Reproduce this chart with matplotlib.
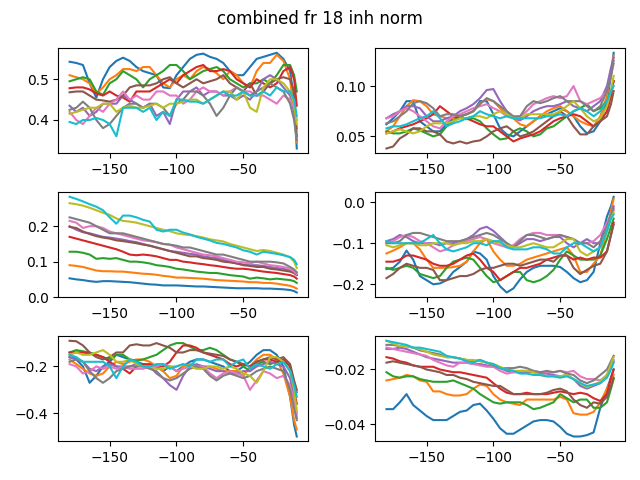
import matplotlib
matplotlib.use('Agg')
import matplotlib.pyplot as plt

t = [-180, -175, -170, -165, -160, -155, -150, -145, -140, -135, -130, -125,
     -120, -115, -110, -105, -100, -95, -90, -85, -80, -75, -70, -65,
     -60, -55, -50, -45, -40, -35, -30, -25, -20, -15, -12, -10]

# each panel: 10 traces, in default colour-cycle order (C0..C9)
p1 = [
    [.543,.54,.535,.49,.455,.5,.53,.545,.553,.545,.53,.52,.515,.51,.48,.478,.51,.53,.55,.56,.563,.555,.55,.54,.52,.51,.51,.53,.55,.555,.56,.565,.55,.52,.45,.33],
    [.51,.505,.5,.49,.465,.48,.5,.51,.525,.525,.52,.53,.53,.51,.49,.48,.5,.51,.5,.52,.53,.525,.515,.5,.52,.51,.49,.48,.52,.54,.54,.56,.545,.5,.42,.345],
    [.495,.5,.505,.5,.47,.462,.49,.5,.52,.51,.5,.48,.5,.51,.52,.535,.535,.52,.5,.51,.52,.525,.53,.52,.5,.49,.48,.49,.49,.5,.49,.51,.535,.535,.51,.47],
    [.478,.48,.48,.475,.465,.46,.47,.46,.455,.445,.47,.47,.47,.48,.49,.5,.49,.51,.52,.53,.535,.52,.52,.525,.52,.5,.49,.48,.5,.49,.48,.49,.52,.53,.5,.435],
    [.435,.42,.43,.41,.42,.44,.44,.44,.46,.45,.44,.43,.44,.41,.42,.39,.45,.47,.47,.48,.46,.47,.47,.46,.46,.45,.46,.45,.47,.5,.51,.5,.48,.46,.42,.38],
    [.468,.47,.47,.46,.45,.448,.445,.45,.46,.48,.485,.485,.485,.49,.5,.505,.49,.48,.49,.5,.49,.495,.5,.51,.49,.48,.47,.49,.46,.47,.49,.5,.505,.5,.47,.36],
    [.42,.4,.39,.41,.43,.42,.44,.45,.47,.45,.46,.45,.45,.47,.47,.46,.46,.44,.45,.47,.48,.47,.47,.46,.47,.48,.47,.47,.46,.46,.45,.44,.46,.45,.43,.40],
    [.425,.43,.445,.43,.40,.38,.39,.41,.43,.44,.44,.43,.44,.44,.43,.41,.44,.45,.47,.47,.46,.44,.41,.43,.46,.48,.47,.46,.47,.48,.49,.48,.47,.44,.40,.35],
    [.415,.42,.425,.43,.43,.44,.44,.42,.43,.435,.43,.43,.435,.44,.43,.44,.44,.445,.45,.45,.44,.45,.46,.47,.47,.45,.47,.43,.42,.48,.5,.5,.49,.47,.44,.39],
    [.395,.39,.4,.40,.405,.40,.39,.36,.43,.43,.43,.42,.43,.40,.42,.41,.45,.45,.445,.445,.44,.45,.46,.47,.46,.46,.47,.46,.46,.47,.46,.48,.47,.47,.45,.41],
]

p2 = [
    [.062,.068,.075,.085,.085,.065,.06,.055,.055,.062,.068,.07,.072,.075,.085,.085,.072,.058,.052,.05,.055,.06,.065,.07,.072,.075,.078,.075,.07,.06,.053,.055,.065,.085,.11,.133],
    [.055,.06,.07,.08,.086,.085,.08,.072,.07,.068,.068,.07,.072,.075,.083,.087,.085,.078,.072,.068,.062,.06,.065,.07,.075,.078,.08,.075,.07,.065,.062,.06,.07,.09,.115,.13],
    [.055,.053,.053,.055,.058,.056,.053,.05,.052,.06,.065,.07,.067,.068,.065,.058,.052,.047,.048,.055,.058,.055,.05,.052,.058,.06,.065,.07,.075,.078,.082,.075,.078,.085,.095,.105],
    [.053,.055,.058,.06,.062,.065,.068,.072,.08,.075,.07,.068,.068,.065,.062,.06,.06,.055,.05,.045,.048,.05,.052,.055,.06,.065,.068,.07,.072,.07,.065,.06,.065,.075,.09,.105],
    [.068,.072,.075,.08,.08,.078,.07,.065,.065,.068,.07,.075,.078,.082,.088,.096,.097,.085,.075,.068,.066,.07,.075,.078,.08,.08,.082,.085,.08,.078,.075,.08,.085,.1,.118,.128],
    [.038,.04,.048,.052,.058,.058,.055,.055,.052,.045,.043,.045,.043,.045,.046,.05,.055,.058,.06,.055,.05,.052,.055,.06,.065,.07,.075,.07,.06,.052,.052,.06,.065,.07,.082,.095],
    [.068,.07,.075,.078,.075,.07,.065,.06,.058,.065,.07,.072,.075,.078,.08,.082,.078,.075,.07,.068,.07,.075,.082,.085,.088,.09,.088,.09,.1,.085,.082,.085,.088,.095,.11,.122],
    [.063,.065,.07,.075,.083,.085,.083,.078,.07,.072,.072,.07,.072,.075,.082,.088,.085,.08,.075,.07,.07,.08,.085,.083,.085,.088,.09,.085,.085,.085,.08,.075,.08,.095,.11,.125],
    [.053,.055,.057,.055,.053,.055,.06,.063,.063,.063,.065,.068,.068,.07,.07,.068,.072,.075,.072,.068,.068,.072,.072,.072,.072,.072,.075,.08,.085,.078,.07,.065,.068,.08,.095,.11],
    [.058,.06,.06,.062,.065,.068,.07,.075,.068,.06,.063,.065,.068,.07,.075,.072,.07,.068,.07,.068,.068,.068,.068,.068,.07,.07,.072,.07,.075,.078,.075,.07,.075,.085,.095,.1],
]

p3 = [
    [.053,.05,.048,.045,.043,.045,.045,.044,.043,.042,.04,.038,.036,.035,.033,.033,.033,.032,.031,.03,.03,.029,.028,.027,.026,.025,.025,.025,.025,.024,.024,.023,.022,.02,.017,.013],
    [.09,.088,.085,.08,.075,.073,.073,.072,.072,.07,.068,.066,.065,.063,.06,.058,.055,.055,.054,.053,.052,.05,.048,.047,.046,.045,.044,.042,.042,.04,.04,.038,.035,.032,.028,.024],
    [.128,.128,.125,.12,.108,.11,.108,.11,.105,.1,.1,.098,.095,.09,.088,.085,.08,.078,.075,.072,.07,.068,.068,.065,.062,.06,.058,.052,.055,.053,.05,.052,.05,.048,.045,.04],
    [.17,.165,.16,.155,.15,.145,.14,.135,.128,.12,.118,.12,.118,.115,.11,.105,.105,.1,.098,.095,.093,.09,.088,.085,.082,.08,.08,.078,.075,.072,.07,.068,.065,.062,.058,.052],
    [.2,.19,.183,.18,.175,.17,.168,.165,.162,.158,.155,.15,.145,.14,.135,.13,.128,.125,.122,.12,.115,.112,.11,.105,.1,.095,.092,.09,.09,.088,.085,.082,.08,.075,.068,.062],
    [.198,.195,.185,.178,.172,.168,.165,.16,.158,.155,.152,.148,.145,.14,.135,.13,.125,.12,.115,.115,.11,.108,.105,.1,.098,.095,.09,.088,.085,.085,.08,.078,.075,.072,.068,.063],
    [.215,.21,.195,.2,.2,.195,.185,.18,.175,.17,.165,.16,.158,.155,.15,.148,.14,.135,.13,.125,.12,.118,.115,.11,.105,.1,.098,.095,.1,.095,.09,.088,.085,.08,.072,.065],
    [.225,.22,.215,.21,.2,.19,.18,.18,.18,.175,.17,.165,.16,.155,.15,.148,.145,.14,.14,.135,.13,.125,.12,.12,.115,.11,.105,.1,.1,.1,.1,.098,.095,.085,.078,.07],
    [.265,.262,.258,.252,.245,.238,.232,.222,.215,.213,.21,.205,.2,.195,.19,.186,.18,.177,.175,.172,.168,.163,.16,.157,.15,.145,.14,.135,.13,.133,.13,.125,.12,.112,.1,.082],
    [.283,.277,.27,.262,.255,.245,.225,.207,.23,.23,.225,.218,.213,.19,.185,.19,.19,.182,.177,.17,.165,.16,.153,.15,.145,.14,.132,.128,.12,.128,.125,.122,.118,.113,.105,.093],
]

p4 = [
    [-.163,-.16,-.145,-.118,-.14,-.18,-.19,-.2,-.198,-.19,-.17,-.158,-.145,-.12,-.125,-.14,-.18,-.205,-.22,-.21,-.188,-.17,-.16,-.155,-.155,-.155,-.158,-.17,-.185,-.195,-.19,-.17,-.1,-.035,-.01,.013],
    [-.125,-.118,-.11,-.1,-.1,-.115,-.14,-.16,-.16,-.16,-.158,-.155,-.145,-.12,-.1,-.09,-.12,-.14,-.155,-.155,-.15,-.14,-.135,-.13,-.125,-.12,-.115,-.11,-.13,-.17,-.17,-.15,-.13,-.07,-.02,.008],
    [-.16,-.165,-.16,-.155,-.16,-.175,-.18,-.185,-.18,-.16,-.145,-.14,-.135,-.14,-.16,-.18,-.195,-.19,-.18,-.17,-.17,-.19,-.195,-.19,-.18,-.165,-.14,-.12,-.13,-.14,-.14,-.14,-.13,-.09,-.06,-.04],
    [-.145,-.145,-.14,-.13,-.13,-.135,-.14,-.15,-.155,-.155,-.15,-.14,-.13,-.125,-.14,-.16,-.17,-.19,-.18,-.17,-.16,-.16,-.155,-.15,-.14,-.135,-.13,-.13,-.14,-.135,-.14,-.135,-.135,-.12,-.08,-.05],
    [-.095,-.09,-.08,-.085,-.095,-.1,-.1,-.1,-.105,-.1,-.1,-.095,-.09,-.08,-.065,-.06,-.07,-.085,-.1,-.11,-.1,-.09,-.09,-.095,-.09,-.085,-.085,-.1,-.11,-.1,-.09,-.1,-.1,-.06,-.03,-.01],
    [-.185,-.175,-.16,-.15,-.155,-.16,-.16,-.165,-.19,-.19,-.185,-.18,-.18,-.175,-.165,-.16,-.16,-.155,-.15,-.15,-.155,-.15,-.145,-.14,-.14,-.145,-.13,-.13,-.16,-.175,-.165,-.155,-.15,-.12,-.08,-.055],
    [-.1,-.095,-.085,-.08,-.085,-.095,-.1,-.11,-.12,-.115,-.105,-.1,-.095,-.09,-.085,-.09,-.1,-.105,-.11,-.105,-.09,-.08,-.075,-.075,-.08,-.08,-.08,-.085,-.09,-.1,-.1,-.095,-.08,-.05,-.03,-.02],
    [-.1,-.1,-.095,-.08,-.075,-.075,-.08,-.085,-.09,-.095,-.095,-.095,-.09,-.085,-.08,-.075,-.08,-.09,-.1,-.11,-.095,-.08,-.08,-.085,-.09,-.085,-.08,-.085,-.09,-.1,-.1,-.11,-.095,-.06,-.03,-.015],
    [-.105,-.11,-.105,-.1,-.1,-.105,-.105,-.1,-.1,-.1,-.105,-.1,-.1,-.095,-.095,-.09,-.095,-.1,-.105,-.11,-.11,-.105,-.1,-.105,-.11,-.11,-.1,-.09,-.09,-.12,-.13,-.12,-.11,-.07,-.04,-.025],
    [-.095,-.1,-.1,-.1,-.1,-.1,-.09,-.08,-.1,-.115,-.12,-.115,-.11,-.1,-.1,-.105,-.095,-.095,-.11,-.115,-.115,-.115,-.11,-.11,-.115,-.125,-.125,-.11,-.1,-.1,-.11,-.12,-.11,-.07,-.04,-.03],
]

p5 = [
    [-.16,-.17,-.2,-.27,-.24,-.2,-.18,-.15,-.16,-.17,-.18,-.19,-.2,-.2,-.22,-.2,-.22,-.2,-.18,-.17,-.17,-.18,-.19,-.2,-.22,-.22,-.2,-.18,-.15,-.13,-.13,-.15,-.2,-.33,-.45,-.5],
    [-.17,-.19,-.21,-.23,-.24,-.23,-.2,-.18,-.19,-.18,-.17,-.17,-.18,-.2,-.22,-.25,-.24,-.2,-.19,-.2,-.2,-.2,-.21,-.22,-.22,-.22,-.24,-.2,-.17,-.15,-.15,-.17,-.23,-.33,-.43,-.47],
    [-.14,-.13,-.135,-.14,-.15,-.16,-.17,-.15,-.15,-.17,-.175,-.17,-.16,-.15,-.13,-.11,-.1,-.1,-.115,-.13,-.13,-.12,-.13,-.15,-.17,-.18,-.2,-.22,-.19,-.18,-.19,-.18,-.17,-.2,-.27,-.31],
    [-.14,-.14,-.14,-.145,-.15,-.16,-.18,-.2,-.21,-.23,-.2,-.19,-.19,-.2,-.2,-.18,-.14,-.11,-.11,-.12,-.14,-.15,-.16,-.17,-.19,-.2,-.19,-.2,-.18,-.17,-.17,-.18,-.17,-.2,-.3,-.36],
    [-.16,-.165,-.18,-.21,-.22,-.2,-.19,-.2,-.2,-.2,-.19,-.2,-.2,-.23,-.25,-.28,-.3,-.24,-.2,-.19,-.2,-.21,-.22,-.22,-.23,-.23,-.22,-.22,-.2,-.19,-.18,-.19,-.2,-.25,-.33,-.42],
    [-.09,-.092,-.11,-.14,-.16,-.17,-.16,-.14,-.14,-.11,-.105,-.11,-.11,-.1,-.11,-.12,-.14,-.14,-.13,-.13,-.14,-.145,-.15,-.155,-.17,-.18,-.19,-.2,-.18,-.17,-.16,-.17,-.16,-.19,-.26,-.3],
    [-.19,-.2,-.23,-.22,-.2,-.21,-.2,-.21,-.2,-.21,-.21,-.21,-.2,-.2,-.19,-.2,-.22,-.21,-.2,-.2,-.2,-.23,-.25,-.23,-.22,-.23,-.24,-.3,-.26,-.22,-.23,-.25,-.24,-.28,-.35,-.4],
    [-.18,-.17,-.18,-.22,-.25,-.27,-.25,-.22,-.21,-.2,-.2,-.2,-.21,-.22,-.25,-.26,-.25,-.23,-.21,-.2,-.21,-.24,-.26,-.24,-.23,-.24,-.25,-.24,-.22,-.21,-.2,-.21,-.22,-.3,-.38,-.43],
    [-.15,-.14,-.15,-.15,-.14,-.13,-.15,-.18,-.18,-.17,-.19,-.2,-.2,-.21,-.21,-.2,-.2,-.19,-.2,-.21,-.21,-.2,-.2,-.21,-.2,-.21,-.23,-.24,-.27,-.22,-.16,-.16,-.18,-.22,-.3,-.39],
    [-.15,-.16,-.18,-.18,-.18,-.18,-.2,-.25,-.2,-.17,-.18,-.2,-.2,-.19,-.19,-.21,-.2,-.19,-.2,-.17,-.17,-.18,-.17,-.17,-.2,-.18,-.17,-.21,-.19,-.2,-.21,-.19,-.18,-.22,-.28,-.33],
]

p6 = [
    [-.0345,-.0345,-.032,-.029,-.033,-.035,-.037,-.0385,-.0385,-.0385,-.037,-.0355,-.035,-.033,-.0325,-.035,-.038,-.0415,-.0435,-.0435,-.042,-.0405,-.039,-.0385,-.0385,-.039,-.041,-.0435,-.0445,-.0445,-.044,-.043,-.034,-.027,-.023,-.02],
    [-.024,-.0235,-.023,-.022,-.0225,-.024,-.0245,-.028,-.028,-.029,-.0295,-.0295,-.029,-.027,-.0255,-.026,-.029,-.031,-.032,-.0325,-.033,-.031,-.031,-.031,-.031,-.031,-.03,-.031,-.036,-.0365,-.0365,-.0355,-.032,-.027,-.024,-.022],
    [-.021,-.0225,-.023,-.0225,-.0225,-.0235,-.024,-.0245,-.0245,-.0245,-.024,-.025,-.026,-.027,-.029,-.0305,-.032,-.0325,-.032,-.032,-.032,-.033,-.0345,-.034,-.033,-.032,-.029,-.0305,-.032,-.031,-.031,-.034,-.034,-.032,-.027,-.0235],
    [-.0155,-.016,-.017,-.0175,-.0185,-.019,-.019,-.019,-.02,-.0205,-.021,-.021,-.0215,-.022,-.0225,-.023,-.025,-.027,-.0285,-.029,-.029,-.0285,-.029,-.029,-.029,-.0285,-.028,-.0285,-.029,-.0285,-.029,-.0305,-.0315,-.029,-.023,-.02],
    [-.0125,-.0125,-.012,-.0125,-.0135,-.0145,-.0155,-.016,-.0165,-.017,-.0175,-.0175,-.0175,-.018,-.018,-.0185,-.019,-.0195,-.0205,-.021,-.021,-.021,-.021,-.0215,-.0215,-.022,-.0225,-.022,-.0235,-.026,-.027,-.026,-.025,-.022,-.019,-.017],
    [-.0175,-.017,-.0175,-.018,-.0185,-.019,-.02,-.0205,-.021,-.022,-.022,-.023,-.0235,-.0245,-.025,-.0255,-.026,-.026,-.0275,-.029,-.029,-.029,-.029,-.029,-.0285,-.0275,-.027,-.028,-.031,-.033,-.034,-.032,-.0325,-.03,-.026,-.023],
    [-.012,-.0125,-.013,-.0135,-.014,-.0145,-.015,-.0165,-.0175,-.0185,-.019,-.0175,-.0175,-.018,-.0185,-.019,-.019,-.0205,-.0215,-.021,-.0205,-.0205,-.0205,-.021,-.021,-.021,-.0205,-.021,-.0205,-.0225,-.0235,-.0235,-.024,-.022,-.0185,-.0165],
    [-.011,-.011,-.0115,-.0115,-.012,-.013,-.0135,-.014,-.0145,-.0155,-.0155,-.016,-.0165,-.017,-.0165,-.0175,-.0185,-.0195,-.0195,-.0195,-.019,-.0195,-.0205,-.021,-.0205,-.021,-.0205,-.0215,-.022,-.024,-.025,-.024,-.022,-.02,-.017,-.015],
    [-.0095,-.0105,-.0115,-.0115,-.012,-.0125,-.0135,-.0145,-.015,-.0155,-.0155,-.016,-.0165,-.0165,-.017,-.0175,-.018,-.019,-.02,-.0205,-.0205,-.0205,-.021,-.022,-.0225,-.0225,-.0225,-.022,-.0235,-.025,-.0265,-.0255,-.0245,-.022,-.018,-.0155],
    [-.0095,-.01,-.0105,-.011,-.012,-.012,-.0125,-.013,-.0135,-.015,-.0155,-.016,-.017,-.0175,-.0165,-.0175,-.018,-.0195,-.02,-.0205,-.0215,-.0215,-.022,-.022,-.0225,-.0225,-.023,-.0225,-.0235,-.025,-.026,-.0255,-.025,-.023,-.02,-.0175],
]

panels = [p1, p2, p3, p4, p5, p6]

fig, axs = plt.subplots(3, 2, figsize=(6.4, 4.8), dpi=100)
for ax, pan in zip(axs.flat, panels):
    for row in pan:
        ax.plot(t, row)

fig.suptitle('combined fr 18 inh norm')
fig.tight_layout()
fig.savefig('out.png')
